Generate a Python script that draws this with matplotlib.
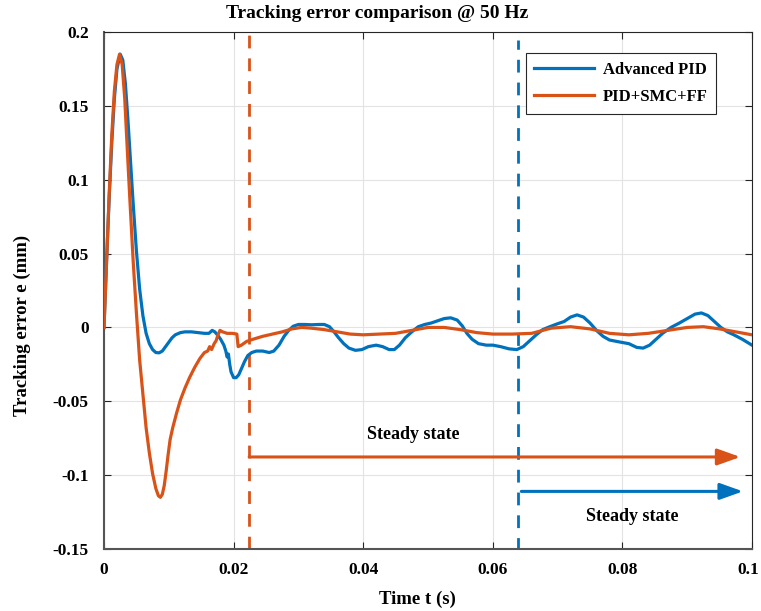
import numpy as np
import matplotlib.pyplot as plt
import matplotlib.transforms as mtransforms

# Advanced PID (blue)
t_pid = [0.0, 0.0004, 0.0008, 0.0012, 0.0016, 0.0020, 0.0025, 0.0029, 0.0033, 0.0037,
         0.0041, 0.0045, 0.0050, 0.0055, 0.0060, 0.0065, 0.0070, 0.0075, 0.0080, 0.0085,
         0.0090, 0.0095, 0.0100, 0.0105, 0.0110, 0.0118, 0.0125, 0.0135, 0.0145, 0.0155,
         0.0162, 0.0167, 0.0171, 0.0175, 0.0180, 0.0185, 0.0188, 0.0190, 0.0192, 0.0194,
         0.0196, 0.0198, 0.0200, 0.0204, 0.0208, 0.0212, 0.0217, 0.0222, 0.0228, 0.0235,
         0.0245, 0.0255, 0.0262, 0.0270, 0.0278, 0.0285, 0.0292, 0.0300, 0.0310, 0.0320,
         0.0332, 0.0340, 0.0348, 0.0355, 0.0362, 0.0370, 0.0378, 0.0388, 0.0398, 0.0408,
         0.0420, 0.0430, 0.0440, 0.0448, 0.0456, 0.0465, 0.0475, 0.0485, 0.0495, 0.0505,
         0.0515, 0.0525, 0.0535, 0.0545, 0.0553, 0.0560, 0.0568, 0.0578, 0.0590, 0.0600,
         0.0612, 0.0625, 0.0637, 0.0647, 0.0657, 0.0667, 0.0677, 0.0688, 0.0700, 0.0710,
         0.0720, 0.0730, 0.0740, 0.0750, 0.0760, 0.0770, 0.0780, 0.0795, 0.0810, 0.0822,
         0.0832, 0.0842, 0.0852, 0.0862, 0.0875, 0.0888, 0.0900, 0.0912, 0.0922, 0.0932,
         0.0942, 0.0952, 0.0962, 0.0972, 0.0985, 0.1000]
e_pid = [0.0, 0.045, 0.088, 0.125, 0.155, 0.175, 0.185, 0.181, 0.165, 0.140,
         0.112, 0.084, 0.052, 0.026, 0.008, -0.004, -0.011, -0.015, -0.017, -0.0172,
         -0.016, -0.013, -0.010, -0.007, -0.005, -0.0035, -0.003, -0.003, -0.0035, -0.004,
         -0.004, -0.002, -0.003, -0.005, -0.008, -0.012, -0.016, -0.020, -0.018, -0.025,
         -0.030, -0.032, -0.034, -0.034, -0.032, -0.028, -0.023, -0.019, -0.017, -0.016,
         -0.016, -0.017, -0.016, -0.012, -0.006, -0.002, 0.0008, 0.002, 0.002, 0.0018,
         0.002, 0.002, 0.0005, -0.003, -0.007, -0.011, -0.014, -0.0155, -0.015, -0.013,
         -0.012, -0.013, -0.015, -0.015, -0.012, -0.007, -0.003, 0.0005, 0.002, 0.003,
         0.0045, 0.006, 0.0065, 0.005, 0.001, -0.004, -0.008, -0.011, -0.012, -0.012,
         -0.013, -0.0145, -0.015, -0.013, -0.009, -0.005, -0.0015, 0.0005, 0.0025, 0.004,
         0.007, 0.0085, 0.007, 0.003, -0.002, -0.006, -0.0085, -0.0098, -0.011, -0.0135,
         -0.014, -0.012, -0.008, -0.004, 0.0, 0.003, 0.006, 0.009, 0.0098, 0.008,
         0.004, 0.0, -0.003, -0.005, -0.008, -0.012]

# PID+SMC+FF (orange)
t_smc = [0.0, 0.0004, 0.0008, 0.0012, 0.0016, 0.0020, 0.0024, 0.0028, 0.0032, 0.0036,
         0.0040, 0.0045, 0.0050, 0.0055, 0.0060, 0.0065, 0.0070, 0.0075, 0.0080, 0.0084,
         0.0087, 0.0090, 0.0093, 0.0096, 0.0099, 0.0102, 0.0106, 0.0112, 0.0118, 0.0125,
         0.0132, 0.0140, 0.0148, 0.0155, 0.0160, 0.0163, 0.0166, 0.0170, 0.0173, 0.0176,
         0.0179, 0.0183, 0.0190, 0.0198, 0.0205, 0.0207, 0.0212, 0.0220, 0.0230, 0.0245,
         0.0260, 0.0275, 0.0290, 0.0305, 0.0320, 0.0340, 0.0360, 0.0380, 0.0400, 0.0425,
         0.0450, 0.0475, 0.0500, 0.0525, 0.0550, 0.0575, 0.0600, 0.0630, 0.0660, 0.0690,
         0.0720, 0.0750, 0.0780, 0.0810, 0.0840, 0.0870, 0.0900, 0.0925, 0.0950, 0.0975,
         0.1000]
e_smc = [0.0, 0.045, 0.090, 0.130, 0.160, 0.178, 0.185, 0.178, 0.155, 0.120,
         0.086, 0.045, 0.010, -0.022, -0.045, -0.068, -0.085, -0.099, -0.109, -0.114,
         -0.115, -0.113, -0.107, -0.097, -0.086, -0.076, -0.068, -0.058, -0.049, -0.041,
         -0.034, -0.027, -0.021, -0.017, -0.016, -0.013, -0.015, -0.011, -0.009, -0.005,
         -0.002, -0.003, -0.004, -0.004, -0.0045, -0.013, -0.012, -0.0095, -0.008, -0.006,
         -0.0045, -0.003, -0.001, 0.0, -0.0005, -0.0015, -0.003, -0.0045, -0.005, -0.0045,
         -0.004, -0.002, 0.0, 0.0, -0.0015, -0.0035, -0.0045, -0.0045, -0.004, -0.0005,
         0.0005, -0.001, -0.004, -0.005, -0.004, -0.002, 0.0, 0.0005, -0.001, -0.003,
         -0.005]

# start of steady state for each controller
t_ss_pid = 0.0639
t_ss_smc = 0.0224

BLUE = '#0072BD'
ORANGE = '#D95319'

plt.rcParams['font.family'] = ['Liberation Serif', 'DejaVu Serif']
plt.rcParams['font.weight'] = 'bold'

fig = plt.figure(figsize=(7.61, 6.11), dpi=100)
ax = fig.add_axes([104 / 761, 1 - 549 / 611, 648 / 761, 517 / 611])

ax.plot(t_pid, e_pid, color=BLUE, lw=2.3, label='Advanced PID', zorder=3,
        solid_joinstyle='round')
ax.plot(t_smc, e_smc, color=ORANGE, lw=2.3, label='PID+SMC+FF', zorder=3,
        solid_joinstyle='round')

ax.axvline(t_ss_smc, color=ORANGE, lw=2.0, ls=(0, (4.6, 3.6)), zorder=2)
ax.axvline(t_ss_pid, ymax=0.985, color=BLUE, lw=2.0, ls=(0.5, (4.6, 3.6)), zorder=2)

ax.annotate('', xy=(0.0982, -0.0877), xytext=(t_ss_smc, -0.0877),
            arrowprops=dict(arrowstyle='-|>,head_length=1.4,head_width=0.5',
                            color=ORANGE, lw=2.2, mutation_scale=10,
                            shrinkA=0, shrinkB=0))
ax.annotate('', xy=(0.0986, -0.111), xytext=(t_ss_pid + 0.0005, -0.111),
            arrowprops=dict(arrowstyle='-|>,head_length=1.4,head_width=0.5',
                            color=BLUE, lw=2.2, mutation_scale=10,
                            shrinkA=0, shrinkB=0))
ax.text(0.0478, -0.0728, 'Steady state', fontsize=13, fontweight='bold',
        ha='center', va='center')
ax.text(0.0815, -0.128, 'Steady state', fontsize=13, fontweight='bold',
        ha='center', va='center')

ax.set_xlim(0, 0.1)
ax.set_ylim(-0.15, 0.2)
ax.set_xticks([0, 0.02, 0.04, 0.06, 0.08, 0.1])
ax.set_xticklabels(['0', '0.02', '0.04', '0.06', '0.08', '0.1'])
ax.set_yticks([-0.15, -0.1, -0.05, 0, 0.05, 0.1, 0.15, 0.2])
ax.set_yticklabels(['-0.15', '-0.1', '-0.05', '0', '0.05', '0.1', '0.15', '0.2'])
ax.tick_params(direction='in', length=5, width=0.8, top=True, right=True,
               labelsize=12.5, color='#262626')
ax.tick_params(axis='x', pad=9)
ax.tick_params(axis='y', pad=11)
ax.grid(True, color='#e3e3e3', lw=0.8)
ax.set_axisbelow(True)

# nudge the last x label so it stays inside the figure
last = ax.get_xticklabels()[-1]
last.set_transform(last.get_transform() +
                   mtransforms.ScaledTranslation(-4 / 100, 0, fig.dpi_scale_trans))

for side in ['top', 'right']:
    ax.spines[side].set_color('#262626')
    ax.spines[side].set_linewidth(0.8)
for side in ['left', 'bottom']:
    ax.spines[side].set_color('#555555')
    ax.spines[side].set_linewidth(1.5)

ax.set_xlabel('Time t (s)', fontsize=13.5, fontweight='bold')
ax.xaxis.set_label_coords(0.483, -0.08)
ax.set_ylabel('Tracking error e (mm)', fontsize=13.5, fontweight='bold')
ax.yaxis.set_label_coords(-0.113, 0.433)
fig.text(377 / 761, 1 - 13 / 611, 'Tracking error comparison @ 50 Hz',
         fontsize=14, fontweight='bold', ha='center', va='center')

leg = ax.legend(loc='upper left', bbox_to_anchor=(0.651, 0.959), fontsize=12,
                frameon=True, fancybox=False, edgecolor='#262626', framealpha=1,
                handlelength=3.6, handletextpad=0.5, borderpad=0.5,
                labelspacing=0.7, borderaxespad=0)
leg.get_frame().set_linewidth(0.8)
for txt in leg.get_texts():
    txt.set_fontweight('bold')

fig.savefig('out.png', dpi=100)
